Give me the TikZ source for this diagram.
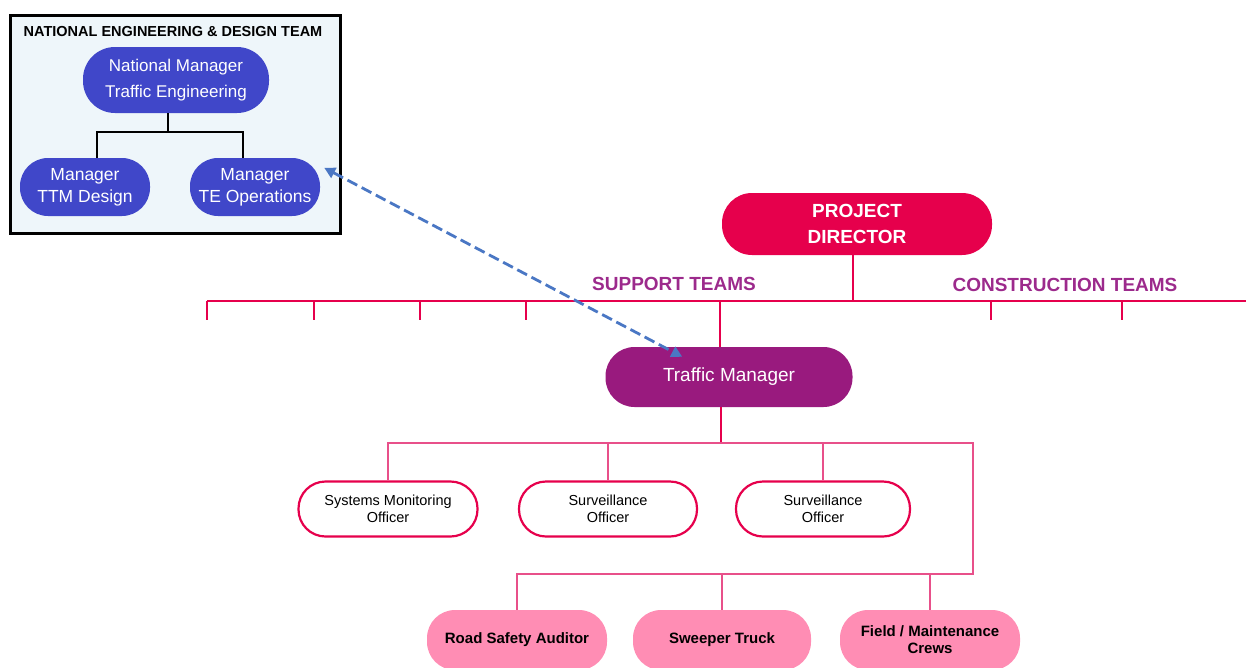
\documentclass[tikz,border=0pt]{standalone}
\usepackage{fontspec}
\setmainfont{Liberation Sans}
\usepackage{xcolor}
\usetikzlibrary{arrows.meta}
\definecolor{crimson}{HTML}{E6004C}
\definecolor{tmpurple}{HTML}{991A7E}
\definecolor{teamlabel}{HTML}{9C2A8C}
\definecolor{natblue}{HTML}{4047C9}
\definecolor{insetbg}{HTML}{EEF6FA}
\definecolor{crewpink}{HTML}{FF8DB4}
\definecolor{subpink}{HTML}{E8508A}
\definecolor{linkblue}{HTML}{4A77C4}
\tikzset{
    natbox/.style={fill=natblue, text=white, rounded corners=28pt, minimum width=130pt, minimum height=58pt, inner sep=0pt, align=center, font=\fontsize{17.5}{22}\selectfont},
    director/.style={fill=crimson, text=white, rounded corners=30pt, minimum width=270pt, minimum height=62pt, inner sep=0pt, align=center, font=\bfseries\fontsize{19}{26}\selectfont},
    manager/.style={fill=tmpurple, text=white, rounded corners=29pt, minimum width=247pt, minimum height=60pt, inner sep=0pt, font=\fontsize{19}{20}\selectfont},
    officer/.style={draw=crimson, line width=2.2pt, fill=white, rounded corners=27pt, minimum height=55pt, inner sep=0pt, align=center, font=\fontsize{14.5}{16.5}\selectfont},
    crew/.style={fill=crewpink, rounded corners=28pt, minimum width=180pt, minimum height=60pt, inner sep=0pt, align=center, font=\bfseries\fontsize{15}{17}\selectfont},
    teams/.style={text=teamlabel, font=\bfseries\fontsize{19}{20}\selectfont},
    bus/.style={draw=crimson, line width=2.4pt},
    sub/.style={draw=subpink, line width=1.4pt},
    tree/.style={draw=black, line width=1.4pt},
    link/.style={draw=linkblue, line width=2.8pt, dash pattern=on 11pt off 5pt, {Triangle[width=11pt,length=11pt]}-{Triangle[width=11pt,length=11pt]}}
}
\begin{document}
\begin{tikzpicture}[x=1pt, y=-1pt]
    \useasboundingbox (0,0) rectangle (1246,667);
    % national engineering inset
    \draw[line width=3pt, fill=insetbg] (10,15) rectangle (340,233);
    \node[font=\bfseries\fontsize{14.5}{16}\selectfont] (natteam) at (173,32) {NATIONAL ENGINEERING \& DESIGN TEAM};
    \node[natbox, minimum width=186pt, minimum height=66pt, rounded corners=32pt, font=\fontsize{17}{26}\selectfont] (nat) at (176,80) {National Manager\\Traffic Engineering};
    \node[natbox] (ttm) at (85,187) {Manager\\TTM Design};
    \node[natbox] (teo) at (255,187) {Manager\\TE Operations};
    \coordinate (natbus) at (168,132);
    \draw[tree] ([xshift=-8pt]nat.south) -- (natbus);
    \draw[tree] ([xshift=12pt]ttm.north) |- (natbus) -| ([xshift=-12pt]teo.north);
    % main structure
    \node[director] (pd) at (857,224) {PROJECT\\DIRECTOR};
    \coordinate (busL) at (207,301);
    \coordinate (busR) at (1246,301);
    \draw[bus] (busL) -- (busR);
    \draw[bus] ([xshift=-4pt]pd.south) -- ([xshift=-4pt]pd.south |- busL);
    \foreach \tx [count=\ti] in {207,314,420,526,991,1122}
        \draw[bus] (\tx,301) coordinate (tick\ti) -- (\tx,320);
    \node[teams] (support) at (674,284) {SUPPORT TEAMS};
    \node[teams] (construct) at (1065,285) {CONSTRUCTION TEAMS};
    \node[manager] (tm) at (729,377) {Traffic Manager};
    \draw[bus] ([xshift=-9pt]tm.north) -- ([xshift=-9pt]tm.north |- busL);
    % officers and crews
    \node[officer, minimum width=179pt] (smo) at (388,509) {Systems Monitoring\\Officer};
    \node[officer, minimum width=178pt] (so1) at (608,509) {Surveillance\\Officer};
    \node[officer, minimum width=174pt] (so2) at (823,509) {Surveillance\\Officer};
    \node[crew] (rsa) at (517,640) {Road Safety Auditor};
    \node[crew, minimum width=178pt] (swt) at (722,640) {Sweeper Truck};
    \node[crew] (fmc) at (930,640) {Field / Maintenance\\Crews};
    \coordinate (elb) at (973,443);
    \coordinate (erb) at (973,574);
    \draw[bus, line width=1.8pt] ([xshift=-8pt]tm.south) -- ([xshift=-8pt]tm.south |- elb);
    \draw[sub] (smo.north) |- (elb) -- (erb) -| (rsa.north);
    \draw[sub] (so1.north) -- (so1.north |- elb);
    \draw[sub] (so2.north) -- (so2.north |- elb);
    \draw[sub] (swt.north) -- (swt.north |- erb);
    \draw[sub] (fmc.north) -- (fmc.north |- erb);
    % link to inset
    \draw[link] ([xshift=4pt,yshift=-10pt]teo.north east) -- ([xshift=77pt,yshift=-10pt]tm.north west);
\end{tikzpicture}
\end{document}
